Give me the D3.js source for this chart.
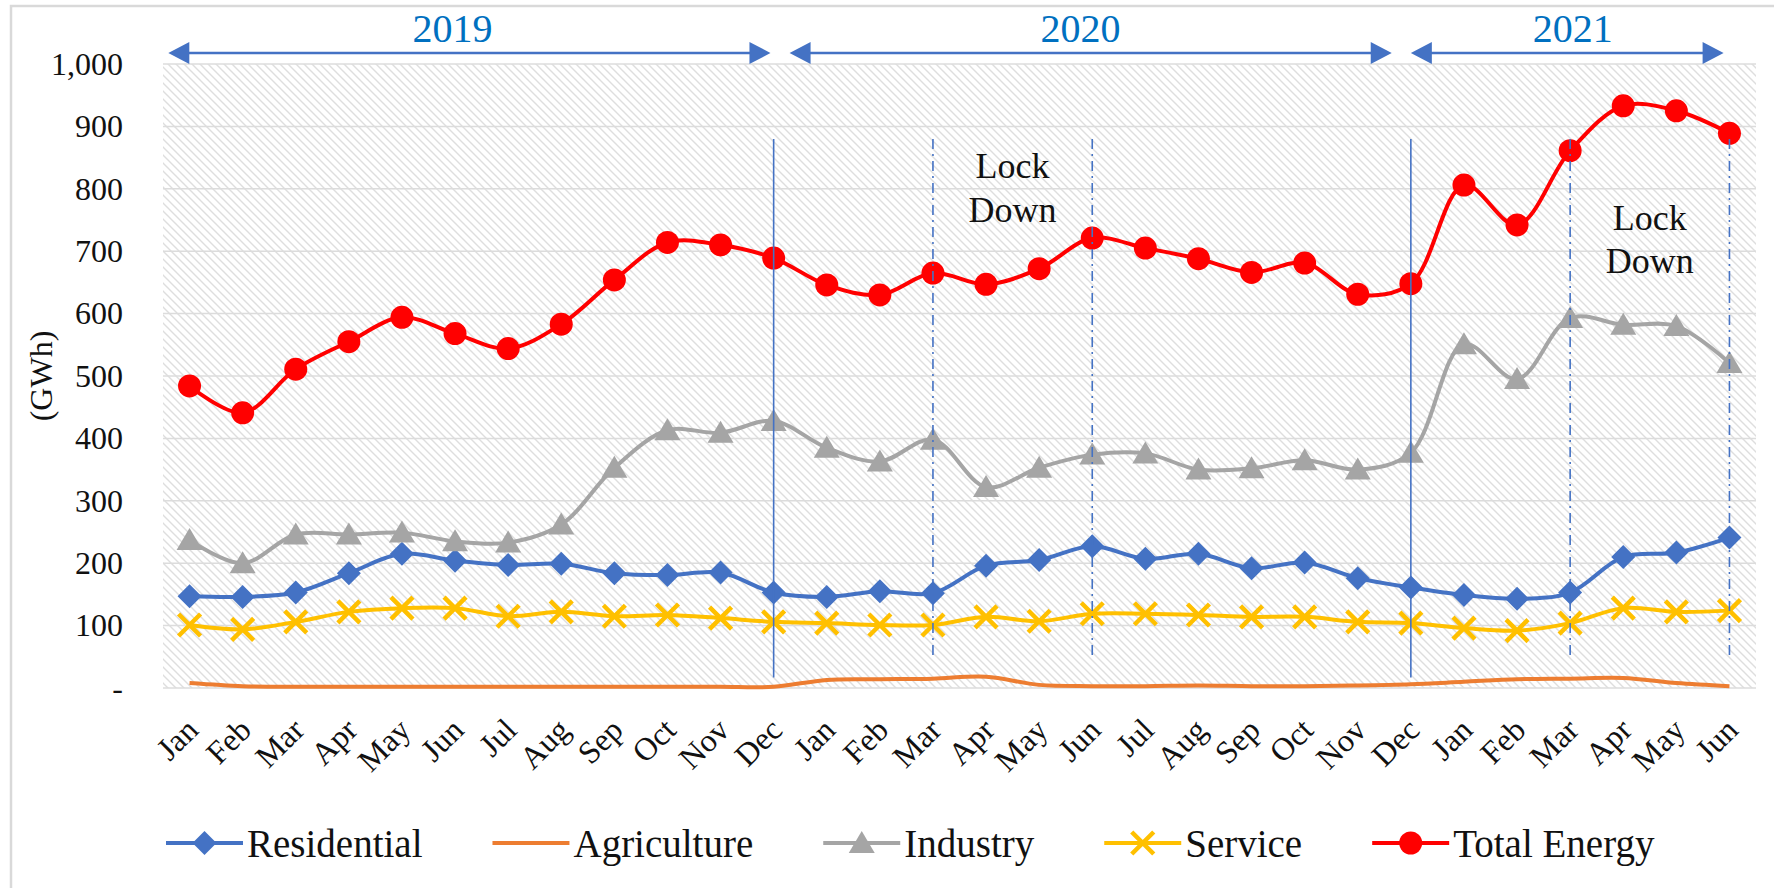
<!DOCTYPE html>
<html>
<head>
<meta charset="utf-8">
<script src="https://cdn.jsdelivr.net/npm/d3@7"></script>
<style>
  body { margin: 0; background: #fff; }
  svg { display: block; font-family: 'Liberation Serif', 'Times New Roman', serif; }
</style>
</head>
<body>
<svg id="chart" width="1774" height="888"></svg>
<script>
// Monthly electricity use by sector, Jan 2019 - Jun 2021 (GWh)
const months = ['Jan', 'Feb', 'Mar', 'Apr', 'May', 'Jun', 'Jul', 'Aug', 'Sep', 'Oct', 'Nov', 'Dec',
                'Jan', 'Feb', 'Mar', 'Apr', 'May', 'Jun', 'Jul', 'Aug', 'Sep', 'Oct', 'Nov', 'Dec',
                'Jan', 'Feb', 'Mar', 'Apr', 'May', 'Jun'];

const residential = [147, 146, 153, 184, 215, 204, 197, 199, 184, 181, 185, 153,
                     146, 155, 152, 196, 205, 227, 207, 215, 192, 201, 176, 161,
                     149, 143, 153, 210, 217, 241];
const agriculture = [8, 3, 2, 2, 2, 2, 2, 2, 2, 2, 2, 2,
                     13, 14, 15, 18, 5, 3, 3, 4, 3, 3, 4, 6,
                     10, 14, 15, 16, 8, 3];
const industry = [237, 200, 246, 246, 249, 235, 233, 262, 353, 413, 409, 428,
                  385, 363, 398, 322, 353, 374, 376, 350, 352, 365, 350, 377,
                  551, 495, 593, 582, 580, 521];
const service = [101, 94, 106, 122, 128, 128, 115, 122, 115, 117, 112, 106,
                 104, 101, 101, 114, 107, 119, 119, 117, 114, 114, 106, 104,
                 96, 92, 104, 128, 122, 124];
const totalEnergy = [484, 441, 511, 555, 594, 568, 544, 583, 654, 714, 710, 689,
                     646, 630, 665, 647, 672, 721, 705, 688, 666, 681, 631, 648,
                     806, 742, 861, 933, 925, 889];

const yTicks = [0, 100, 200, 300, 400, 500, 600, 700, 800, 900, 1000];

// year spans along the top (in month index units)
const years = ['2019', '2020', '2021'];
const yearArrowFrom = [-0.4, 11.3, 23.0];
const yearArrowTo = [10.94, 22.64, 28.89];
const yearLabelAt = [4.95, 16.78, 26.05];

// year dividers (Dec) and lock down periods
const dividers = [11, 23];
const lockdowns = [[14, 17], [26, 29]];
const lockdownLabelY = [[817, 747], [734, 665]];

(function() {
  let svg = d3.select('#chart');
  let plot = { left: 163, right: 1756, top: 64, bottom: 688 };

  let series = [
    { name: 'Residential', values: residential, color: '#4472C4', marker: 'diamond' },
    { name: 'Agriculture', values: agriculture, color: '#ED7D31', marker: null },
    { name: 'Industry', values: industry, color: '#A5A5A5', marker: 'triangle' },
    { name: 'Service', values: service, color: '#FFC000', marker: 'cross' },
    { name: 'Total Energy', values: totalEnergy, color: '#FF0000', marker: 'circle' }
  ];

  let x = d3.scalePoint()
    .domain(d3.range(months.length))
    .range([plot.left, plot.right])
    .padding(0.5);
  let xAt = (i) => x(0) + i * x.step();
  let y = d3.scaleLinear().domain([0, 1000]).range([plot.bottom, plot.top]);

  //
  // Frame and hatched plot background
  //

  svg.append('path')
    .attr('d', 'M11,888 L11,6 L1774,6')
    .attr('fill', 'none')
    .attr('stroke', '#d9d9d9')
    .attr('stroke-width', 2.5);

  let pat = svg.append('defs').append('pattern')
    .attr('id', 'hatch')
    .attr('patternUnits', 'userSpaceOnUse')
    .attr('width', 8)
    .attr('height', 8);
  pat.append('rect').attr('width', 8).attr('height', 8).attr('fill', '#fff');
  pat.append('path')
    .attr('d', 'M-1,-1 L9,9 M-1,7 L1,9 M7,-1 L9,1')
    .attr('stroke', '#dedede')
    .attr('stroke-width', 1.4);

  svg.append('rect')
    .attr('x', plot.left)
    .attr('y', plot.top)
    .attr('width', plot.right - plot.left)
    .attr('height', plot.bottom - plot.top)
    .attr('fill', 'url(#hatch)');

  svg.append('g').selectAll('line')
    .data(yTicks)
    .enter().append('line')
      .attr('x1', plot.left)
      .attr('x2', plot.right)
      .attr('y1', (d) => y(d))
      .attr('y2', (d) => y(d))
      .attr('stroke', '#dcdcdc')
      .attr('stroke-width', 1.5);

  //
  // Axes
  //

  let yAxis = svg.append('g')
    .attr('transform', `translate(123,0)`)
    .call(d3.axisLeft(y).tickValues(yTicks).tickSize(0).tickPadding(0)
      .tickFormat((d) => d === 0 ? '-' : d3.format(',')(d)));
  yAxis.select('.domain').remove();
  yAxis.attr('font-size', 32).attr('font-family', null);
  yAxis.selectAll('text').attr('fill', '#111');

  let xAxis = svg.append('g')
    .attr('transform', `translate(0,${plot.bottom})`)
    .call(d3.axisBottom(x).tickSize(0).tickFormat((i) => months[i]));
  xAxis.select('.domain').remove();
  xAxis.attr('font-size', 32).attr('font-family', null);
  xAxis.selectAll('text')
    .attr('x', 0)
    .attr('y', 0)
    .attr('dy', '0.35em')
    .attr('text-anchor', 'end')
    .attr('fill', '#111')
    .attr('transform', 'translate(2,36) rotate(-45)');

  svg.append('text')
    .attr('transform', `translate(41,${y(500)}) rotate(-90)`)
    .attr('text-anchor', 'middle')
    .attr('dy', '0.35em')
    .attr('font-size', 32)
    .attr('fill', '#111')
    .text('(GWh)');

  //
  // Markers
  //

  let drawMarker = (g, type, color) => {
    if (type === 'diamond') {
      g.append('path').attr('d', 'M0,-12 L12,0 L0,12 L-12,0 Z').attr('fill', color);
    } else if (type === 'triangle') {
      g.append('path').attr('d', 'M0,-12 L13,10 L-13,10 Z').attr('fill', color);
    } else if (type === 'cross') {
      g.append('path').attr('d', 'M-11,-11 L11,11 M-11,11 L11,-11')
        .attr('stroke', color).attr('stroke-width', 4.5).attr('fill', 'none');
    } else if (type === 'circle') {
      g.append('circle').attr('r', 11.5).attr('fill', color);
    }
  };

  //
  // Series lines
  //

  let line = d3.line()
    .x((d, i) => x(i))
    .y((d) => y(d))
    .curve(d3.curveCatmullRom.alpha(0.5));

  for (let s of series) {
    let g = svg.append('g').attr('class', 'series');
    g.append('path')
      .attr('d', line(s.values))
      .attr('fill', 'none')
      .attr('stroke', s.color)
      .attr('stroke-width', 4)
      .attr('stroke-linejoin', 'round');
    if (s.marker) {
      g.selectAll('.pt')
        .data(s.values)
        .enter().append('g')
          .attr('class', 'pt')
          .attr('transform', (d, i) => `translate(${x(i)},${y(d)})`)
          .each(function() { drawMarker(d3.select(this), s.marker, s.color); });
    }
  }

  //
  // Annotations: dividers, lock down periods, year arrows
  //

  svg.append('g').selectAll('line')
    .data(dividers)
    .enter().append('line')
      .attr('x1', (i) => x(i))
      .attr('x2', (i) => x(i))
      .attr('y1', y(880))
      .attr('y2', y(17))
      .attr('stroke', '#4472C4')
      .attr('stroke-width', 1.6);

  svg.append('g').selectAll('line')
    .data(lockdowns.flat())
    .enter().append('line')
      .attr('x1', (i) => x(i))
      .attr('x2', (i) => x(i))
      .attr('y1', y(880))
      .attr('y2', y(45))
      .attr('stroke', '#4472C4')
      .attr('stroke-width', 1.6)
      .attr('stroke-dasharray', '10,5,2,5');

  lockdowns.forEach(([a, b], k) => {
    let t = svg.append('text')
      .attr('text-anchor', 'middle')
      .attr('font-size', 36)
      .attr('fill', '#111');
    t.append('tspan').attr('x', (x(a) + x(b)) / 2).attr('y', y(lockdownLabelY[k][0])).text('Lock');
    t.append('tspan').attr('x', (x(a) + x(b)) / 2).attr('y', y(lockdownLabelY[k][1])).text('Down');
  });

  let arrowY = 53, head = 21, half = 11;
  years.forEach((yr, k) => {
    let x1 = xAt(yearArrowFrom[k]), x2 = xAt(yearArrowTo[k]);
    let g = svg.append('g').attr('class', 'year-arrow');
    g.append('line')
      .attr('x1', x1 + head - 2).attr('x2', x2 - head + 2)
      .attr('y1', arrowY).attr('y2', arrowY)
      .attr('stroke', '#4472C4')
      .attr('stroke-width', 2.6);
    g.append('path')
      .attr('d', `M${x1},${arrowY} L${x1 + head},${arrowY - half} L${x1 + head},${arrowY + half} Z` +
                 `M${x2},${arrowY} L${x2 - head},${arrowY - half} L${x2 - head},${arrowY + half} Z`)
      .attr('fill', '#4472C4');
    g.append('text')
      .attr('x', xAt(yearLabelAt[k]))
      .attr('y', 42)
      .attr('text-anchor', 'middle')
      .attr('font-size', 40)
      .attr('fill', '#0070C0')
      .text(yr);
  });

  //
  // Legend
  //

  let legend = svg.append('g').attr('class', 'legend');
  let lx = 166, ly = 843, lineLen = 77, gap = 70;
  for (let s of series) {
    let item = legend.append('g').attr('transform', `translate(${lx},${ly})`);
    item.append('line')
      .attr('x1', 0).attr('x2', lineLen)
      .attr('stroke', s.color)
      .attr('stroke-width', 4);
    if (s.marker) {
      let m = item.append('g').attr('transform', `translate(${lineLen / 2},0)`);
      drawMarker(m, s.marker, s.color);
    }
    let txt = item.append('text')
      .attr('x', lineLen + 4)
      .attr('dy', '0.35em')
      .attr('font-size', 39)
      .attr('fill', '#111')
      .text(s.name);
    lx += lineLen + 4 + txt.node().getComputedTextLength() + gap;
  }
})();
</script>
</body>
</html>
